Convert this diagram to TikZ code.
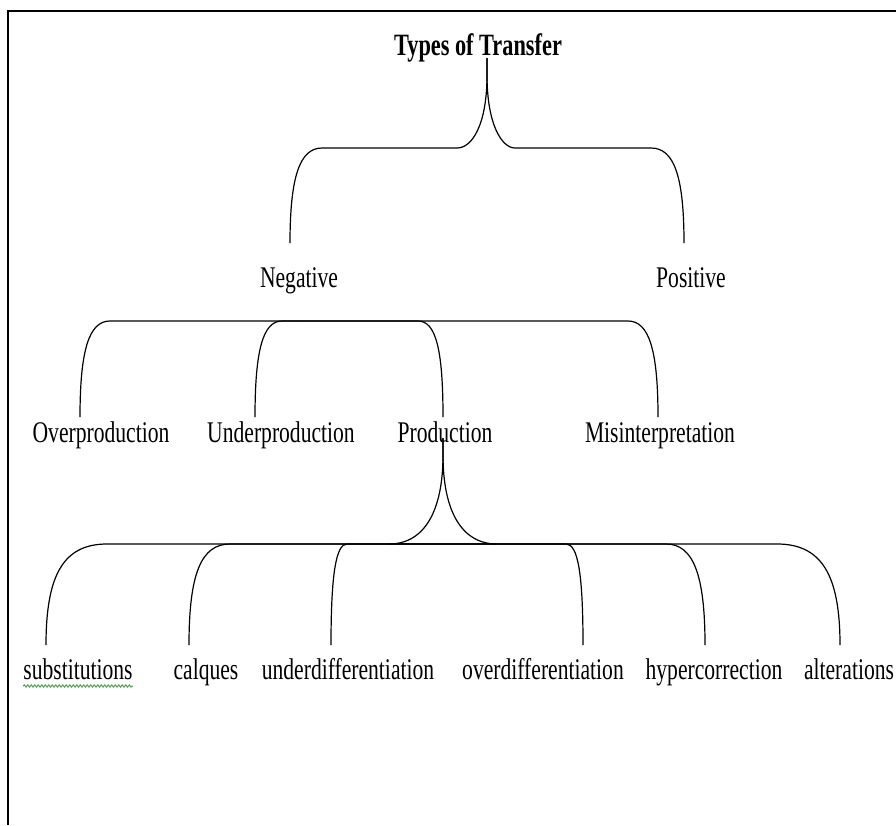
\documentclass[tikz,border=0pt]{standalone}
\usepackage{fontspec}
\setmainfont{Liberation Serif}[FakeStretch=0.72]
\usetikzlibrary{decorations.pathmorphing,calc}
\definecolor{spell}{RGB}{80,160,80}
\begin{document}
\begin{tikzpicture}[x=1pt,y=-1pt,
  lbl/.style={anchor=base, inner sep=0pt, font=\fontsize{30}{36}\selectfont},
  ttl/.style={anchor=base, inner sep=0pt, font=\fontsize{31}{36}\selectfont\bfseries},
  link/.style={line width=1.2pt, black},
  framebox/.style={line width=2pt, black},
  wavy/.style={spell, line width=1pt, decorate, decoration={snake, amplitude=1.1pt, segment length=3.5pt}}]
\useasboundingbox (0,0) rectangle (896,825);
% frame
\draw[framebox] (8,825) -- (8,11) -- (896,11);

% nodes
\node[ttl] (title) at (478,55) {Types of Transfer};
\node[lbl] (neg) at (299,287) {Negative};
\node[lbl] (pos) at (691,287) {Positive};
\node[lbl] (over) at (101,442) {Overproduction};
\node[lbl] (under) at (281,442) {Underproduction};
\node[lbl] (prod) at (445,442) {Production};
\node[lbl] (mis) at (660,442) {Misinterpretation};
\node[lbl] (subs) at (78,679) {substitutions};
\node[lbl] (calq) at (206,679) {calques};
\node[lbl] (udiff) at (348,679) {underdifferentiation};
\node[lbl] (odiff) at (543,679) {overdifferentiation};
\node[lbl] (hyper) at (714,679) {hypercorrection};
\node[lbl] (alter) at (849,679) {alterations};

% connector ends
\coordinate (ttop) at (487,58);
\coordinate (negtop) at (290,243);
\coordinate (postop) at (684,243);
\coordinate (negbar) at (299,321);
\coordinate (overtop) at (80,417);
\coordinate (undertop) at (255,417);
\coordinate (prodtop) at (443,417);
\coordinate (mistop) at (658,417);
\coordinate (prodbot) at (443,438);
\coordinate (pbar) at (443,544);
\coordinate (substop) at (46,645);
\coordinate (calqtop) at (189,645);
\coordinate (udifftop) at (331,645);
\coordinate (odifftop) at (583,645);
\coordinate (hypertop) at (705,645);
\coordinate (altertop) at (840,645);

% level 1 brace
\draw[link] (negtop) .. controls (290,176) and (300,148) .. (322,148) -- (457,148)
  .. controls (472,148) and (487,125) .. (487,75) -- (ttop);
\draw[link] (postop) .. controls (684,176) and (674,148) .. (651,148) -- (515,148)
  .. controls (502,148) and (487,125) .. (487,75) -- (ttop);

% level 2 brackets
\draw[link] (overtop) .. controls (80,350) and (89,321) .. (110,321) -- (negbar);
\draw[link] (mistop) .. controls (658,350) and (649,321) .. (628,321) -- (negbar);
\draw[link] (undertop) .. controls (255,350) and (263,321) .. (282,321) -- (negbar);
\draw[link] (prodtop) .. controls (443,350) and (436,321) .. (418,321) -- (negbar);

% level 3 cusp
\draw[link] (prodbot) -- (443,455) .. controls (443,510) and (425,544) .. (389,544);
\draw[link] (prodbot) -- (443,455) .. controls (443,510) and (461,544) .. (497,544);

% level 3 brackets
\draw[link] (substop) .. controls (46,574) and (64,544) .. (107,544) -- (pbar);
\draw[link] (calqtop) .. controls (189,574) and (201,544) .. (230,544) -- (pbar);
\draw[link] (udifftop) .. controls (331,574) and (336,544) .. (347,544) -- (pbar);
\draw[link] (odifftop) .. controls (583,574) and (578,544) .. (566,544) -- (pbar);
\draw[link] (hypertop) .. controls (705,574) and (693,544) .. (666,544) -- (pbar);
\draw[link] (altertop) .. controls (840,574) and (821,544) .. (777,544) -- (pbar);

% spell-check underline
\draw[wavy] ($(subs.base west)+(0,7)$) -- ($(subs.base east)+(0,7)$);
\end{tikzpicture}
\end{document}
